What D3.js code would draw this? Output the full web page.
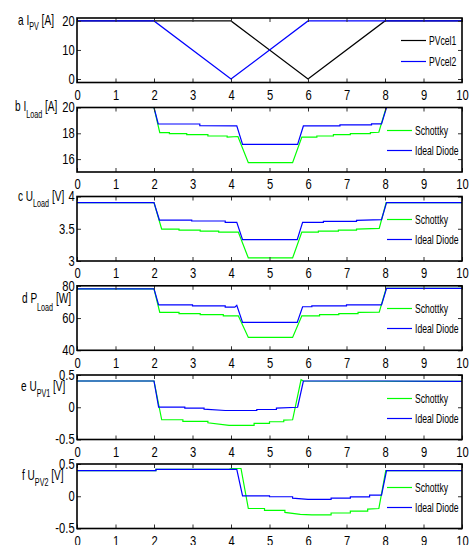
<!DOCTYPE html>
<html>
<head>
<meta charset="utf-8">
<script src="https://cdn.jsdelivr.net/npm/d3@7"></script>
<style>
  body { margin: 0; background: #fff; }
  text { font-family: "Liberation Sans", Arial, sans-serif; fill: #000; }
</style>
</head>
<body>
<script>
// ---- data ----
var xTicks = [0, 1, 2, 3, 4, 5, 6, 7, 8, 9, 10];

// a: PV cell currents [A]
var tA = [0, 2, 4, 6, 8, 10];
var pvcel1 = [20, 20, 20, 0, 20, 20];
var pvcel2 = [20, 20, 0, 20, 20, 20];

// b: load current [A]
var tB_s = [0, 2, 2.15, 2.4, 2.4, 2.85, 2.85, 3.4, 3.4, 3.9, 3.9, 4.18, 4.45, 5.6, 5.84, 6.23, 6.23, 6.66, 6.66, 7.1, 7.1, 7.62, 7.62, 7.84, 8.03, 10];
var iLoadSchottky = [20, 20, 18.05, 18.05, 17.97, 17.97, 17.9, 17.9, 17.79, 17.79, 17.71, 17.75, 15.72, 15.72, 17.71, 17.71, 17.79, 17.79, 17.9, 17.9, 17.97, 17.97, 18.05, 18.08, 20, 20];
var tB_i = [0, 2, 2.11, 3.19, 3.19, 4.15, 4.3, 5.73, 5.88, 6.83, 6.83, 7.65, 7.65, 7.91, 8.04, 10];
var iLoadIdeal = [20, 20, 18.72, 18.72, 18.6, 18.58, 17.14, 17.14, 18.57, 18.57, 18.66, 18.66, 18.73, 18.73, 20, 20];

// c: load voltage [V]
var tC_s = [0, 2, 2.2, 2.65, 2.65, 3.2, 3.2, 3.68, 3.68, 4.19, 4.45, 5.6, 5.84, 6.27, 6.27, 6.79, 6.79, 7.26, 7.26, 7.85, 8.03, 10];
var uLoadSchottky = [3.906, 3.906, 3.495, 3.495, 3.48, 3.48, 3.464, 3.464, 3.448, 3.448, 3.047, 3.047, 3.448, 3.448, 3.464, 3.464, 3.48, 3.48, 3.495, 3.505, 3.906, 3.906];
var tC_i = [0, 2, 2.14, 2.98, 2.98, 3.85, 3.85, 4.15, 4.3, 5.72, 5.86, 6.4, 6.4, 7.26, 7.26, 7.91, 8.04, 10];
var uLoadIdeal = [3.906, 3.906, 3.635, 3.635, 3.62, 3.62, 3.6, 3.6, 3.33, 3.33, 3.6, 3.6, 3.615, 3.615, 3.63, 3.64, 3.906, 3.906];

// d: load power [W]
var tD_s = [0, 2, 2.15, 2.65, 2.65, 3.2, 3.2, 3.8, 3.8, 4.19, 4.45, 5.6, 5.84, 6.3, 6.3, 6.8, 6.8, 7.3, 7.3, 7.85, 8.03, 10];
var pLoadSchottky = [78.1, 78.1, 63.5, 63.5, 62.8, 62.8, 62.1, 62.1, 61.4, 61.4, 48.0, 48.0, 61.4, 61.4, 62.1, 62.1, 62.8, 62.8, 63.5, 63.6, 78.4, 78.4];
var tD_i = [0, 2, 2.12, 3.0, 3.0, 3.85, 3.85, 4.1, 4.15, 4.3, 5.72, 5.86, 6.1, 6.1, 7.0, 7.0, 7.91, 8.04, 10];
var pLoadIdeal = [78.1, 78.1, 68.2, 68.2, 67.6, 67.6, 66.8, 66.8, 67.9, 57.3, 57.3, 67.0, 67.0, 67.6, 67.6, 68.2, 68.2, 78.4, 78.4];

// e: PV1 voltage [V]
var tE_s = [0, 2, 2.2, 2.75, 2.75, 3.4, 3.4, 3.95, 4.6, 4.6, 5.0, 5.0, 5.37, 5.37, 5.6, 5.82, 5.88, 10];
var uPv1Schottky = [0.407, 0.407, -0.194, -0.194, -0.22, -0.22, -0.24, -0.28, -0.28, -0.25, -0.25, -0.225, -0.225, -0.2, -0.194, 0.428, 0.407, 0.4];
var tE_i = [0, 2, 2.12, 2.8, 2.8, 3.3, 3.3, 3.85, 4.67, 4.67, 5.18, 5.18, 5.73, 5.88, 7.97, 10];
var uPv1Ideal = [0.407, 0.407, 0.002, 0.002, -0.014, -0.014, -0.03, -0.05, -0.05, -0.035, -0.035, -0.014, 0.0, 0.407, 0.407, 0.4];

// f: PV2 voltage [V]
var tF_s = [0, 2.05, 2.05, 3.95, 4.0, 4.26, 4.45, 4.87, 4.87, 5.4, 5.4, 5.8, 6.1, 6.6, 6.6, 7.1, 7.1, 7.55, 7.55, 7.84, 8.02, 10];
var uPv2Schottky = [0.396, 0.396, 0.417, 0.417, 0.43, 0.43, -0.19, -0.19, -0.22, -0.22, -0.25, -0.28, -0.29, -0.29, -0.26, -0.26, -0.23, -0.23, -0.2, -0.19, 0.396, 0.396];
var tF_i = [0, 2.05, 2.05, 4.15, 4.3, 5.0, 5.0, 5.6, 5.6, 6.0, 6.6, 6.6, 7.1, 7.1, 7.6, 7.6, 7.91, 8.04, 10];
var uPv2Ideal = [0.396, 0.396, 0.417, 0.417, 0.007, 0.007, -0.008, -0.008, -0.03, -0.047, -0.047, -0.03, -0.03, -0.01, -0.01, 0.016, 0.016, 0.396, 0.396];

var yTicksA = [0, 10, 20];
var yTicksB = [16, 18, 20];
var yTicksC = [3, 3.5, 4];
var yTicksD = [40, 60, 80];
var yTicksE = [-0.5, 0, 0.5];

var legendA = ["PVcel1", "PVcel2"];
var legendDiode = ["Schottky", "Ideal Diode"];

// ---- layout ----
var colorBlack = "#000000", colorBlue = "#0000ff", colorGreen = "#00ff00";
var left = 77, right = 462, panelH = 64.5;
var panelTop = [18, 107.5, 196.5, 285.8, 375, 464];

function pairs(t, v) { return t.map(function(d, i) { return [d, v[i]]; }); }

var panels = [
  { domain: [-1.2, 21], ticks: yTicksA, legend: legendA, legX: 401,
    label: ["a I", "PV", " [A]"], labelPos: [18, 25, 30],
    series: [ { d: pairs(tA, pvcel1), c: colorBlack }, { d: pairs(tA, pvcel2), c: colorBlue } ] },
  { domain: [15, 20], ticks: yTicksB, legend: legendDiode, legX: 387,
    label: ["b I", "Load", " [A]"], labelPos: [15, 111.5, 118],
    series: [ { d: pairs(tB_s, iLoadSchottky), c: colorGreen }, { d: pairs(tB_i, iLoadIdeal), c: colorBlue } ] },
  { domain: [3, 4], ticks: yTicksC, legend: legendDiode, legX: 387,
    label: ["c U", "Load", " [V]"], labelPos: [18, 201, 207],
    series: [ { d: pairs(tC_s, uLoadSchottky), c: colorGreen }, { d: pairs(tC_i, uLoadIdeal), c: colorBlue } ] },
  { domain: [40, 80], ticks: yTicksD, legend: legendDiode, legX: 387,
    label: ["d P", "Load", " [W]"], labelPos: [22, 303, 311],
    series: [ { d: pairs(tD_s, pLoadSchottky), c: colorGreen }, { d: pairs(tD_i, pLoadIdeal), c: colorBlue } ] },
  { domain: [-0.5, 0.5], ticks: yTicksE, legend: legendDiode, legX: 387,
    label: ["e U", "PV1", " [V]"], labelPos: [21, 391.5, 397.5],
    series: [ { d: pairs(tE_s, uPv1Schottky), c: colorGreen }, { d: pairs(tE_i, uPv1Ideal), c: colorBlue } ] },
  { domain: [-0.5, 0.5], ticks: yTicksE, legend: legendDiode, legX: 387,
    label: ["f U", "PV2", " [V]"], labelPos: [22, 480, 486.5],
    series: [ { d: pairs(tF_s, uPv2Schottky), c: colorGreen }, { d: pairs(tF_i, uPv2Ideal), c: colorBlue } ] }
];

var svg = d3.select("body").append("svg")
  .attr("width", 471)
  .attr("height", 545)
  .style("display", "block");

var scalex = d3.scaleLinear().domain([0, 10]).range([left, right]);
var fmt = function(d) { return String(d); };

panels.forEach(function(p, i) {
  var top = panelTop[i], bottom = top + panelH;
  var scaley = d3.scaleLinear().domain(p.domain).range([bottom, top]);
  var g = svg.append("g");

  var line = d3.line()
    .x(function(d) { return scalex(d[0]); })
    .y(function(d) { return scaley(d[1]); });

  p.series.forEach(function(s) {
    g.append("path")
      .attr("d", line(s.d))
      .attr("fill", "none")
      .attr("stroke", s.c)
      .attr("stroke-width", 1.2);
  });

  // axes: inward ticks on all four sides
  g.append("g").attr("transform", "translate(0," + bottom + ")")
    .call(d3.axisBottom(scalex).tickValues(xTicks).tickSize(-4).tickPadding(7.5).tickFormat(fmt));
  g.append("g").attr("transform", "translate(0," + top + ")")
    .call(d3.axisTop(scalex).tickValues(xTicks).tickSize(-4).tickFormat(""));
  g.append("g").attr("transform", "translate(" + left + ",0)")
    .call(d3.axisLeft(scaley).tickValues(p.ticks).tickSize(-4).tickPadding(3).tickFormat(fmt));
  g.append("g").attr("transform", "translate(" + right + ",0)")
    .call(d3.axisRight(scaley).tickValues(p.ticks).tickSize(-4).tickFormat(""));

  g.selectAll(".domain").remove();
  g.selectAll(".tick line").attr("stroke", "#333");
  // narrow look of the original tick labels
  g.selectAll(".tick text")
    .attr("font-size", 14)
    .attr("font-family", null)
    .attr("transform", "scale(0.8,1)");

  g.append("rect")
    .attr("x", left).attr("y", top)
    .attr("width", right - left).attr("height", panelH)
    .attr("fill", "none").attr("stroke", "#000").attr("stroke-width", 1.6);

  // legend
  var ly = i === 0 ? [40, 61] : [top + 23, top + 43];
  p.legend.forEach(function(name, k) {
    var lx = p.legX, y = Math.floor(ly[k]) + 0.5;
    g.append("line")
      .attr("x1", lx).attr("x2", lx + 25)
      .attr("y1", y).attr("y2", y)
      .attr("stroke", p.series[k].c).attr("stroke-width", 1.2);
    g.append("g")
      .attr("transform", "translate(" + (lx + 28) + "," + y + ") scale(0.69,1)")
      .append("text")
      .attr("dy", "0.35em")
      .attr("font-size", 12.5)
      .text(name);
  });

  // y label
  var lab = g.append("g")
    .attr("transform", "translate(" + p.labelPos[0] + ",0) scale(0.72,1)")
    .append("text")
    .attr("x", 0).attr("y", p.labelPos[1])
    .attr("font-size", 14);
  lab.append("tspan").text(p.label[0]);
  lab.append("tspan").attr("y", p.labelPos[2]).attr("font-size", 10).text(p.label[1]);
  lab.append("tspan").attr("y", p.labelPos[1]).text(p.label[2]);
});
</script>
</body>
</html>
